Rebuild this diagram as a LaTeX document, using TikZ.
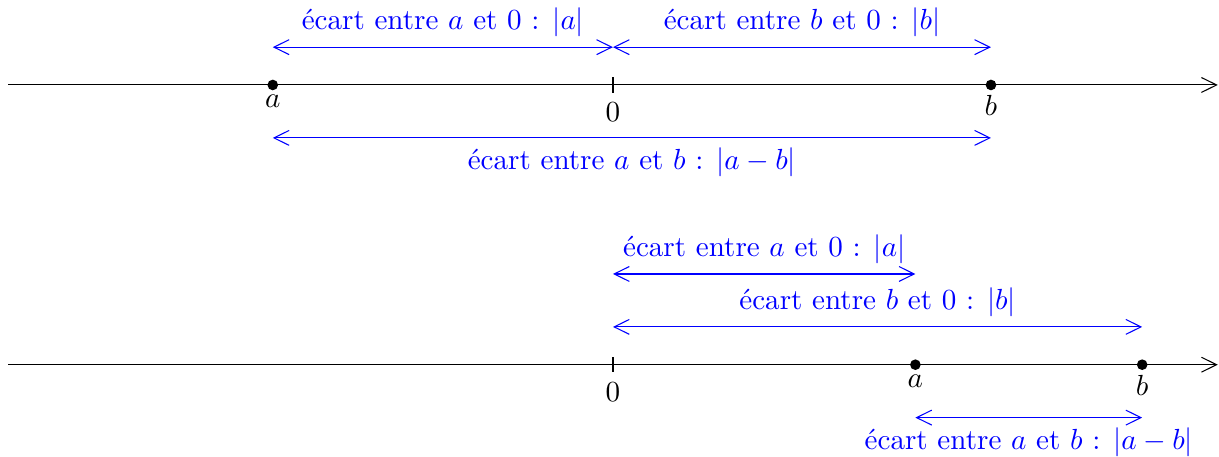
\documentclass[tikz,border=0pt,11pt]{standalone}
\usepackage{tikz}
\usetikzlibrary{arrows.meta}

\begin{document}
\begin{tikzpicture}[
  tip/.style={Straight Barb[length=5.7pt,width=5.6pt]},
  axe/.style={-{Straight Barb[length=5.7pt,width=5.6pt]}},
  ecart/.style={blue, {Straight Barb[length=5.7pt,width=5.6pt]}-{Straight Barb[length=5.7pt,width=5.6pt]}},
  lbl/.style={blue}]
\useasboundingbox (-8.108,1.124) rectangle (8.016,-4.921);
% premiere droite : a < 0 < b
\coordinate (g1) at (-8,0);
\coordinate (d1) at (8,0);
\coordinate (a1) at (-4.5,0);
\coordinate (o1) at (0,0);
\coordinate (b1) at (5,0);
\draw[axe] (g1) -- (d1);
\draw ([yshift=1mm]o1) -- ([yshift=-1mm]o1);
\node[below] (z1) at ([yshift=-1mm]o1) {$0$};
\fill (a1) circle (2pt);
\fill (b1) circle (2pt);
\node[below] (la1) at (a1) {$a$};
\node[below] (lb1) at (b1) {$b$};
\draw[ecart] ([yshift=5mm]a1) -- node[lbl, above] (ea1) {écart entre $a$ et $0$ : $|a|$} ([yshift=5mm]o1);
\draw[ecart] ([yshift=5mm]o1) -- node[lbl, above] (eb1) {écart entre $b$ et $0$ : $|b|$} ([yshift=5mm]b1);
\draw[ecart] ([yshift=-7mm]a1) -- node[lbl, below] (eab1) {écart entre $a$ et $b$ : $|a-b|$} ([yshift=-7mm]b1);
% seconde droite : 0 < a < b
\coordinate (g2) at (-8,-3.7);
\coordinate (d2) at (8,-3.7);
\coordinate (o2) at (0,-3.7);
\coordinate (a2) at (4,-3.7);
\coordinate (b2) at (7,-3.7);
\draw[axe] (g2) -- (d2);
\draw ([yshift=1mm]o2) -- ([yshift=-1mm]o2);
\node[below] (z2) at ([yshift=-1mm]o2) {$0$};
\fill (a2) circle (2pt);
\fill (b2) circle (2pt);
\node[below] (la2) at (a2) {$a$};
\node[below] (lb2) at (b2) {$b$};
\draw[ecart] ([yshift=12mm]o2) -- node[lbl, above] (ea2) {écart entre $a$ et $0$ : $|a|$} ([yshift=12mm]a2);
\draw[ecart] ([yshift=5mm]o2) -- node[lbl, above] (eb2) {écart entre $b$ et $0$ : $|b|$} ([yshift=5mm]b2);
\draw[ecart] ([yshift=-7mm]a2) -- node[lbl, below] (eab2) {écart entre $a$ et $b$ : $|a-b|$} ([yshift=-7mm]b2);
\end{tikzpicture}
\end{document}
